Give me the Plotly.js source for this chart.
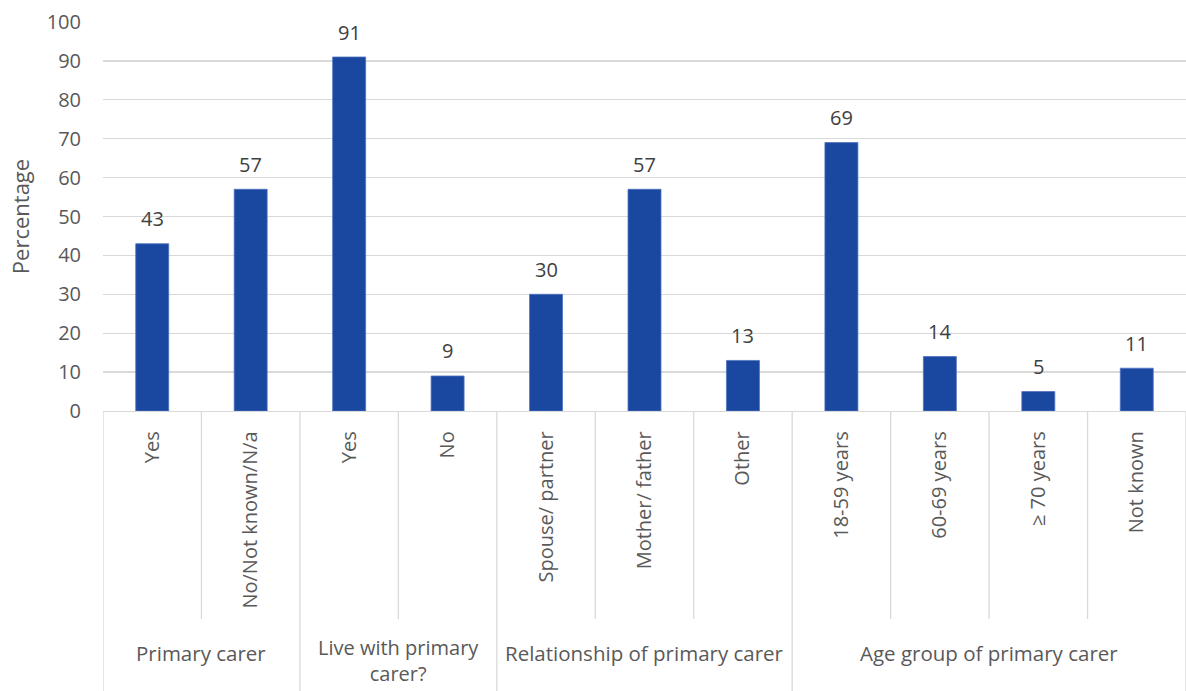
<!DOCTYPE html>
<html>
<head>
<meta charset="utf-8">
<script src="https://cdn.plot.ly/plotly-3.0.1.min.js"></script>
<style>html,body{margin:0;padding:0;background:#fff;}#chart{width:1186px;height:691px;}</style>
</head>
<body>
<div id="chart"></div>
<script>
const categories = ["Yes", "No/Not known/N/a", "Yes", "No", "Spouse/ partner", "Mother/ father", "Other", "18-59 years", "60-69 years", "\u2265 70 years", "Not known"];
const values = [43, 57, 91, 9, 30, 57, 13, 69, 14, 5, 11];
const groups = ["Primary carer", "Live with primary<br>carer?", "Relationship of primary carer", "Age group of primary carer"];
const groupSizes = [2, 2, 3, 4];
const yTicks = [0, 10, 20, 30, 40, 50, 60, 70, 80, 90, 100];

const FONT = "Open Sans, sans-serif";
const xs = categories.map((_, i) => i);

const shapes = [];
const annotations = [];
// separators between categories and groups
let start = 0;
const groupEdges = new Set([-0.5]);
groupSizes.forEach(n => { start += n; groupEdges.add(start - 0.5); });
for (let i = 0; i <= categories.length; i++) {
  const xv = i - 0.5;
  const isGroup = groupEdges.has(xv);
  shapes.push({type: "line", xref: "x", yref: "paper", x0: xv, x1: xv, y0: 0, y1: isGroup ? -0.75 : -0.535,
    line: {color: "#d9d9d9", width: 1.3}});
}
start = 0;
groups.forEach((g, k) => {
  const c = start + (groupSizes[k] - 1) / 2;
  start += groupSizes[k];
  const twoLine = g.indexOf("<br>") >= 0;
  annotations.push({x: c, xref: "x", y: twoLine ? -0.568 : -0.58, yref: "paper", yanchor: "top", text: g, showarrow: false,
    font: {family: FONT, size: twoLine ? 20 : 20.5, color: "#595959"}});
});
// data labels
values.forEach((v, i) => {
  annotations.push({x: xs[i], y: v, xref: "x", yref: "y", yanchor: "middle", yshift: 25, text: String(v),
    showarrow: false, font: {family: FONT, size: 20, color: "#404040"}});
});

const trace = {
  type: "bar", x: xs, y: values, width: 0.335,
  marker: {color: "#1a47a0", line: {color: "#4f74c0", width: 0.8}},
  hoverinfo: "skip"
};

const layout = {
  width: 1186, height: 691,
  margin: {l: 103, r: 0, t: 22, b: 280},
  paper_bgcolor: "#fff", plot_bgcolor: "#fff",
  showlegend: false,
  bargap: 0,
  xaxis: {
    range: [-0.5, 10.5], tickvals: xs, ticktext: categories, tickangle: -90,
    showgrid: false, zeroline: false, showline: true, linecolor: "#d9d9d9", linewidth: 1.3,
    ticks: "", ticklabelstandoff: 11,
    tickfont: {family: FONT, size: 20, color: "#595959"}, fixedrange: true
  },
  yaxis: {
    range: [0, 100], tickvals: yTicks, showgrid: true, gridcolor: "#d9d9d9", gridwidth: 1.3,
    zeroline: false, showline: false, ticks: "", ticklabelstandoff: 21,
    tickfont: {family: FONT, size: 20, color: "#595959"},
    title: {text: "Percentage", font: {family: FONT, size: 22, color: "#595959"}, standoff: 10}
  },
  shapes: shapes,
  annotations: annotations,
  font: {family: FONT}
};

Plotly.newPlot("chart", [trace], layout, {displayModeBar: false, staticPlot: true});
</script>
</body>
</html>
